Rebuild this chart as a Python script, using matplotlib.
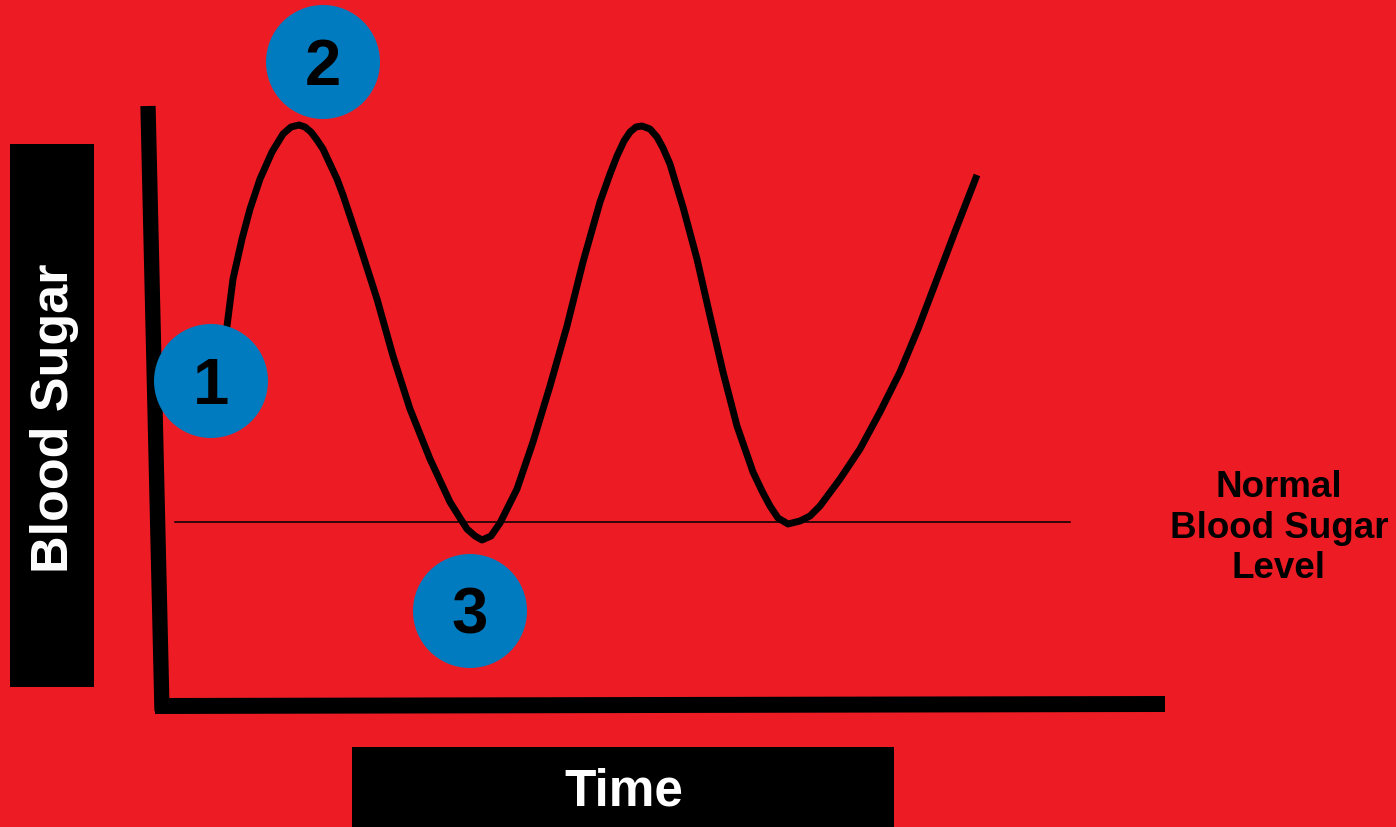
"""
Blood sugar over time diagram, drawn with matplotlib
"""

import matplotlib.pyplot as plt
from matplotlib.patches import Circle, Rectangle

# curve: time (px from left) and sugar level (px from bottom)
TIME = [225, 227, 233, 242, 250, 260, 272, 283, 291, 299, 305, 311, 317, 323, 330,
        337, 343, 360, 377, 393, 410, 430, 450, 460, 467, 475, 482, 491, 500, 508,
        517, 533, 550, 567, 583, 600, 610, 617, 624, 630, 636, 642, 650, 657, 663,
        670, 676, 683, 697, 710, 723, 737, 753, 762, 770, 778, 788, 800, 810, 820,
        840, 860, 880, 900, 918, 937, 956, 977]
SUGAR = [488, 501, 548, 588, 618, 648, 675, 693, 700, 702, 700, 695, 687, 678, 663,
         648, 632, 581, 528, 471, 418, 368, 325, 309, 298, 291, 287, 291, 304, 320,
         338, 385, 441, 501, 565, 625, 653, 671, 686, 695, 700, 701, 698, 690, 679,
         663, 643, 620, 568, 511, 455, 401, 355, 336, 321, 309, 303, 306, 311, 321,
         348, 378, 415, 455, 498, 548, 598, 652]

# axis lines of the sketch
Y_AXIS_TIME = [148, 162]
Y_AXIS_SUGAR = [721, 116]
X_AXIS_TIME = [155, 1165]
X_AXIS_SUGAR = [121, 123]

# normal level line
NORMAL_TIME = [175, 1070]
NORMAL_SUGAR = [305, 305]

# numbered markers: (time, sugar, label)
MARKERS = [(211, 446, "1"), (323, 765, "2"), (470, 216, "3")]

RED = "#ED1C24"
BLUE = "#007BBF"
FONT = "Liberation Sans"


def draw_labels(ax):
    """
    Black boxes with axis titles and the normal level caption
    """
    ax.add_patch(Rectangle((10, 140), 84, 543, facecolor="black", zorder=2))
    ax.text(55, 410, "Blood Sugar", rotation=90, color="white", fontsize=37.5,
            fontweight="bold", family=FONT, ha="center", va="center", zorder=3)

    ax.add_patch(Rectangle((352, 0), 542, 80, facecolor="black", zorder=2))
    ax.text(624, 36, "Time", color="white", fontsize=37, fontweight="bold",
            family=FONT, ha="center", va="center", zorder=3)

    ax.text(1279, 300, "Normal\nBlood Sugar\nLevel", color="black", fontsize=26.5,
            fontweight="bold", family=FONT, ha="center", va="center",
            linespacing=1.2, zorder=3)


def draw_markers(ax):
    """
    Blue circles with the step numbers
    """
    for x, y, label in MARKERS:
        ax.add_patch(Circle((x, y), 57, facecolor=BLUE, edgecolor="none", zorder=5))
        ax.text(x, y - 5, label, color="black", fontsize=47, fontweight="bold",
                family=FONT, ha="center", va="center", zorder=6)


def base():
    fig = plt.figure(figsize=(13.96, 8.28), dpi=100)
    fig.patch.set_facecolor(RED)
    ax = fig.add_axes([0, 0, 1, 1])
    ax.set_facecolor(RED)
    ax.set_xlim(0, 1396)
    ax.set_ylim(0, 828)
    ax.axis("off")

    ax.plot(Y_AXIS_TIME, Y_AXIS_SUGAR, color="black", linewidth=11,
            solid_capstyle="butt", zorder=3)
    ax.plot(X_AXIS_TIME, X_AXIS_SUGAR, color="black", linewidth=11.5,
            solid_capstyle="butt", zorder=3)
    ax.plot(NORMAL_TIME, NORMAL_SUGAR, color="black", linewidth=1.1, zorder=3)
    ax.plot(TIME, SUGAR, color="black", linewidth=5, solid_joinstyle="round",
            solid_capstyle="butt", zorder=4)

    draw_labels(ax)
    draw_markers(ax)

    fig.savefig("out.png", dpi=100, facecolor=RED)


if __name__ == "__main__":
    base()
